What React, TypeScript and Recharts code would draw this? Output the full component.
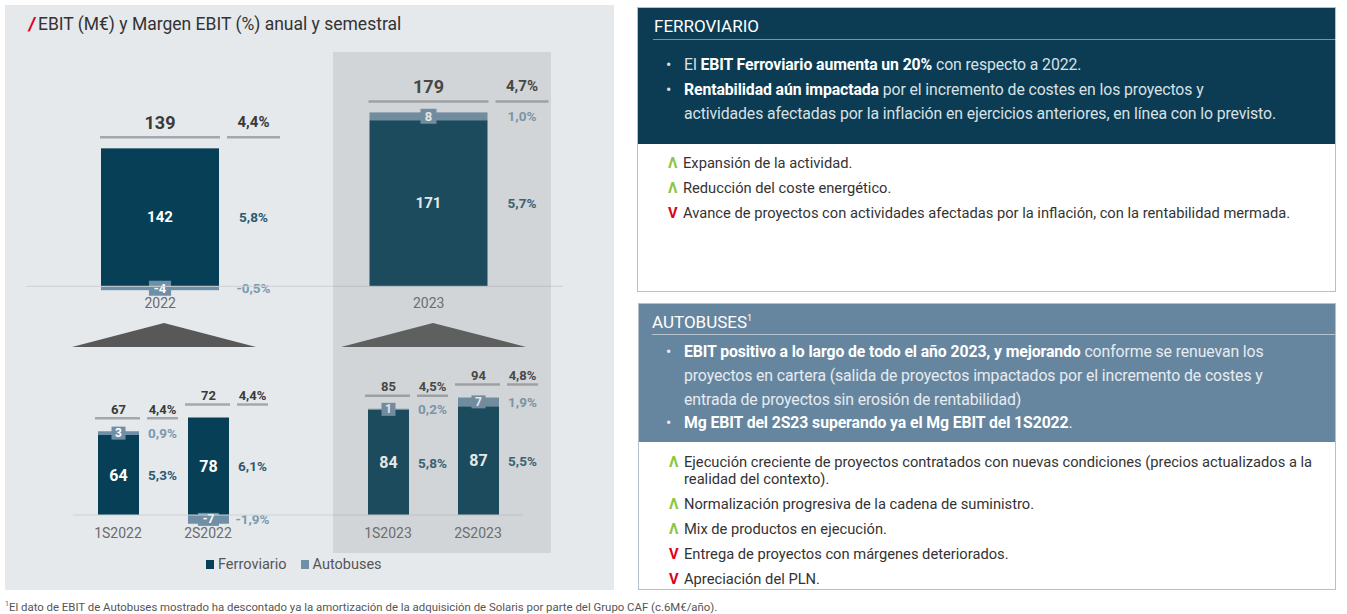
import { BarChart, Bar, XAxis, YAxis, ReferenceLine } from "recharts"

// annual data (M€ and margin %)
const annualCategories = ["2022", "2023"]
const annualFerroviario = [142, 171]
const annualAutobuses = [-4, 8]
const annualTotal = [139, 179]
const annualMargenFerroviario = ["5,8%", "5,7%"]
const annualMargenAutobuses = ["-0,5%", "1,0%"]
const annualMargenTotal = ["4,4%", "4,7%"]

// semester data, the empty category is the gap between the two years
const semesterCategories = ["1S2022", "2S2022", "", "1S2023", "2S2023"]
const semesterFerroviario = [64, 78, null, 84, 87]
const semesterAutobuses = [3, -7, null, 1, 7]
const semesterTotal = [67, 72, null, 85, 94]
const semesterMargenFerroviario = ["5,3%", "6,1%", null, "5,8%", "5,5%"]
const semesterMargenAutobuses = ["0,9%", "-1,9%", null, "0,2%", "1,9%"]
const semesterMargenTotal = ["4,4%", "4,4%", null, "4,5%", "4,8%"]

const seriesNames = ["Ferroviario", "Autobuses"]

const FERRO = "#063f56"
const BUS = "#6f8fa7"
const FONT = "Roboto, 'Noto Sans', sans-serif"

const buildRows = (cats: string[], fe: any[], bu: any[], tot: any[], mf: any[], mb: any[], mt: any[]) =>
  cats.map((name, i) => ({
    name,
    ferroviario: fe[i],
    autobuses: bu[i],
    total: tot[i],
    mFerro: mf[i],
    mBus: mb[i],
    mTotal: mt[i],
  }))

const annualRows = buildRows(
  annualCategories, annualFerroviario, annualAutobuses, annualTotal,
  annualMargenFerroviario, annualMargenAutobuses, annualMargenTotal
)
const semesterRows = buildRows(
  semesterCategories, semesterFerroviario, semesterAutobuses, semesterTotal,
  semesterMargenFerroviario, semesterMargenAutobuses, semesterMargenTotal
)

interface LabelStyle {
  valueFont: number
  boxFont: number
  boxH: number
  boxMin: number
  pctFont: number
  totalFont: number
  totalPctFont: number
  pctLineW: number
  totalGap: number
  labelLift: number
  linePad: number
}

const annualStyle: LabelStyle = {
  valueFont: 15, boxFont: 13, boxH: 15, boxMin: 16, pctFont: 13.5, totalFont: 18,
  totalPctFont: 15, pctLineW: 53, totalGap: 11, labelLift: 15, linePad: 1,
}
const semesterStyle: LabelStyle = {
  valueFont: 16, boxFont: 12, boxH: 13, boxMin: 14, pctFont: 13.5, totalFont: 13,
  totalPctFont: 13, pctLineW: 31, totalGap: 13, labelLift: 9, linePad: 3,
}

const makeFerroShape = (s: LabelStyle) => (props: any) => {
  const { x, y, width, height, payload } = props
  if (payload == null || payload.ferroviario == null) return null
  const top = Math.min(y, y + height)
  const h = Math.abs(height)
  const cx = x + width / 2
  const unit = h / Math.abs(payload.ferroviario)
  const stackTop = top - Math.max(0, payload.autobuses) * unit
  const lineY = stackTop - s.totalGap
  const pctX = x + width + 8
  const pctC = pctX + s.pctLineW / 2
  return (
    <g>
      <rect x={x} y={top} width={width} height={h} fill={FERRO} />
      <text x={cx} y={top + h / 2} fill="#fff" fontWeight={700} fontSize={s.valueFont}
        textAnchor="middle" dominantBaseline="central" fontFamily={FONT}>{payload.ferroviario}</text>
      <text x={pctC} y={top + h / 2} fill="#2c5a72" fontWeight={700} fontSize={s.pctFont}
        textAnchor="middle" dominantBaseline="central" fontFamily={FONT}>{payload.mFerro}</text>
      <line x1={x - s.linePad} x2={x + width + 1} y1={lineY} y2={lineY} stroke="#a4a8ac" strokeWidth={2.5} />
      <line x1={pctX} x2={pctX + s.pctLineW} y1={lineY} y2={lineY} stroke="#a4a8ac" strokeWidth={2.5} />
      <text x={cx} y={lineY - s.labelLift} fill="#3a3a3a" fontWeight={700} fontSize={s.totalFont}
        textAnchor="middle" dominantBaseline="central" fontFamily={FONT}>{payload.total}</text>
      <text x={pctC} y={lineY - s.labelLift} fill="#3a3a3a" fontWeight={700} fontSize={s.totalPctFont}
        textAnchor="middle" dominantBaseline="central" fontFamily={FONT}>{payload.mTotal}</text>
    </g>
  )
}

const makeBusShape = (s: LabelStyle) => (props: any) => {
  const { x, y, width, height, payload } = props
  if (payload == null || payload.autobuses == null) return null
  const top = Math.min(y, y + height)
  const h = Math.abs(height)
  const cx = x + width / 2
  const cy = top + h / 2
  const label = String(payload.autobuses)
  const boxW = Math.max(s.boxMin, label.length * s.boxFont * 0.62 + 6)
  const pctC = x + width + 8 + s.pctLineW / 2
  return (
    <g>
      <rect x={x} y={top} width={width} height={h} fill={BUS} />
      <rect x={cx - boxW / 2} y={cy - s.boxH / 2} width={boxW} height={s.boxH} fill={BUS} />
      <text x={cx} y={cy} fill="#fff" fontWeight={700} fontSize={s.boxFont}
        textAnchor="middle" dominantBaseline="central" fontFamily={FONT}>{label}</text>
      <text x={pctC} y={cy} fill="#7b99af" fontWeight={700} fontSize={s.pctFont}
        textAnchor="middle" dominantBaseline="central" fontFamily={FONT}>{payload.mBus}</text>
    </g>
  )
}

function StackChart({ rows, style, width, height, margin, domain, barSize, axisH, tickMargin }: any) {
  return (
    <BarChart width={width} height={height} data={rows} margin={margin} stackOffset="sign">
      <XAxis dataKey="name" axisLine={false} tickLine={false} tickSize={0} tickMargin={tickMargin}
        height={axisH} interval={0} tick={{ fontSize: 14, fill: "#6b6b6b", fontFamily: FONT }} />
      <YAxis hide domain={domain} />
      <ReferenceLine y={0} stroke="#cdd2d6" strokeWidth={1} />
      <Bar dataKey="ferroviario" name={seriesNames[0]} stackId="a" fill={FERRO} barSize={barSize}
        shape={makeFerroShape(style)} isAnimationActive={false} />
      <Bar dataKey="autobuses" name={seriesNames[1]} stackId="a" fill={BUS} barSize={barSize}
        shape={makeBusShape(style)} isAnimationActive={false} />
    </BarChart>
  )
}

const para = { margin: 0 }
const headText = { fontSize: 15.8, letterSpacing: "-0.1px" }
const itemText = { fontSize: 14.7 }

export default function App() {
  return (
    <div style={{ position: "absolute", left: 0, top: 0, width: 1347, height: 614, background: "#fff", fontFamily: FONT, overflow: "hidden" }}>
      {/* left panel */}
      <div style={{ position: "absolute", left: 5, top: 5, width: 609, height: 585, background: "#e5e9ec" }} />
      <div style={{ position: "absolute", left: 29, top: 12, fontSize: 17.5, color: "#333", whiteSpace: "nowrap", lineHeight: "24px" }}>
        <span style={{ color: "#e3001b", fontWeight: 900, fontStyle: "italic", marginRight: 3 }}>/</span>
        EBIT (M€) y Margen EBIT (%) anual y semestral
      </div>

      <div style={{ position: "absolute", left: 0, top: 52 }}>
        <StackChart rows={annualRows} style={annualStyle} width={600} height={274}
          margin={{ top: 40, right: 37, left: 26, bottom: 0 }} domain={[-10, 200]}
          barSize={118} axisH={30} tickMargin={2} />
      </div>

      <svg style={{ position: "absolute", left: 0, top: 0 }} width={620} height={360}>
        <polygon points="72,347 164,323 256,347" fill="#585858" />
        <polygon points="341,347 433,323 526,347" fill="#585858" />
      </svg>

      <div style={{ position: "absolute", left: 0, top: 340 }}>
        <StackChart rows={semesterRows} style={semesterStyle} width={600} height={205}
          margin={{ top: 50, right: 77, left: 73, bottom: 0 }} domain={[-8, 100]}
          barSize={41} axisH={20} tickMargin={3} />
      </div>

      {/* 2023 highlight */}
      <div style={{ position: "absolute", left: 333, top: 52, width: 218, height: 501, background: "rgba(122,125,128,0.19)", pointerEvents: "none" }} />

      <div style={{ position: "absolute", left: 206, top: 556, fontSize: 14.5, color: "#555", whiteSpace: "nowrap", lineHeight: "18px" }}>
        <span style={{ display: "inline-block", width: 8, height: 9, background: FERRO, marginRight: 4 }} />
        {seriesNames[0]}
        <span style={{ display: "inline-block", width: 8, height: 9, background: BUS, marginLeft: 14, marginRight: 4 }} />
        {seriesNames[1]}
      </div>

      {/* Ferroviario box */}
      <div style={{ position: "absolute", left: 637, top: 7, width: 697, height: 283, border: "1px solid #b5c1ca", background: "#fff" }}>
        <div style={{ position: "absolute", left: 0, top: 0, width: 697, height: 136, background: "#0b3c53" }} />
        <div style={{ position: "absolute", left: 15, top: 6, width: 682, height: 25, borderBottom: "1px solid rgba(255,255,255,0.45)", color: "#fff", fontSize: 17, lineHeight: "24px", paddingLeft: 1 }}>FERROVIARIO</div>
        <div style={{ position: "absolute", left: 28, top: 45, ...headText, lineHeight: "24.5px", color: "#d9e1e6", whiteSpace: "nowrap" }}>
          <div style={{ display: "flex" }}><span style={{ width: 18 }}>•</span><p style={para}>El <b style={{ color: "#fff" }}>EBIT Ferroviario aumenta un 20%</b> con respecto a 2022.</p></div>
          <div style={{ display: "flex" }}><span style={{ width: 18 }}>•</span><p style={para}><b style={{ color: "#fff" }}>Rentabilidad aún impactada</b> por el incremento de costes en los proyectos y<br />actividades afectadas por la inflación en ejercicios anteriores, en línea con lo previsto.</p></div>
        </div>
        <div style={{ position: "absolute", left: 30, top: 147, ...itemText, lineHeight: "17px", color: "#333", whiteSpace: "nowrap" }}>
          <div style={{ display: "flex", marginBottom: 8 }}><span style={{ width: 15, color: "#8cc63f", fontWeight: 700 }}>Λ</span><p style={para}>Expansión de la actividad.</p></div>
          <div style={{ display: "flex", marginBottom: 8 }}><span style={{ width: 15, color: "#8cc63f", fontWeight: 700 }}>Λ</span><p style={para}>Reducción del coste energético.</p></div>
          <div style={{ display: "flex", marginBottom: 8 }}><span style={{ width: 15, color: "#e2001a", fontWeight: 700 }}>V</span><p style={para}>Avance de proyectos con actividades afectadas por la inflación, con la rentabilidad mermada.</p></div>
        </div>
      </div>

      {/* Autobuses box */}
      <div style={{ position: "absolute", left: 638, top: 303, width: 696, height: 285, border: "1px solid #b5c1ca", background: "#fff" }}>
        <div style={{ position: "absolute", left: 0, top: 0, width: 696, height: 138, background: "#6686a0" }} />
        <div style={{ position: "absolute", left: 13, top: 2, width: 683, height: 28, borderBottom: "1px solid rgba(255,255,255,0.5)", color: "#fff", fontSize: 17, lineHeight: "24px" }}>AUTOBUSES<sup style={{ fontSize: 9 }}>1</sup></div>
        <div style={{ position: "absolute", left: 27, top: 36, ...headText, lineHeight: "24px", color: "#e6ecf0", whiteSpace: "nowrap" }}>
          <div style={{ display: "flex" }}><span style={{ width: 18 }}>•</span><p style={para}><b style={{ color: "#fff" }}>EBIT positivo a lo largo de todo el año 2023, y mejorando</b> conforme se renuevan los<br />proyectos en cartera (salida de proyectos impactados por el incremento de costes y<br />entrada de proyectos sin erosión de rentabilidad)</p></div>
          <div style={{ display: "flex", marginTop: -1 }}><span style={{ width: 18 }}>•</span><p style={para}><b style={{ color: "#fff" }}>Mg EBIT del 2S23 superando ya el Mg EBIT del 1S2022</b>.</p></div>
        </div>
        <div style={{ position: "absolute", left: 30, top: 150, ...itemText, lineHeight: "17px", color: "#333", whiteSpace: "nowrap" }}>
          <div style={{ display: "flex", marginBottom: 8 }}><span style={{ width: 15, color: "#8cc63f", fontWeight: 700 }}>Λ</span><p style={para}>Ejecución creciente de proyectos contratados con nuevas condiciones (precios actualizados a la<br />realidad del contexto).</p></div>
          <div style={{ display: "flex", marginBottom: 8 }}><span style={{ width: 15, color: "#8cc63f", fontWeight: 700 }}>Λ</span><p style={para}>Normalización progresiva de la cadena de suministro.</p></div>
          <div style={{ display: "flex", marginBottom: 8 }}><span style={{ width: 15, color: "#8cc63f", fontWeight: 700 }}>Λ</span><p style={para}>Mix de productos en ejecución.</p></div>
          <div style={{ display: "flex", marginBottom: 8 }}><span style={{ width: 15, color: "#e2001a", fontWeight: 700 }}>V</span><p style={para}>Entrega de proyectos con márgenes deteriorados.</p></div>
          <div style={{ display: "flex", marginBottom: 8 }}><span style={{ width: 15, color: "#e2001a", fontWeight: 700 }}>V</span><p style={para}>Apreciación del PLN.</p></div>
        </div>
      </div>

      <div style={{ position: "absolute", left: 5, top: 597, fontSize: 11.4, color: "#555", whiteSpace: "nowrap", lineHeight: "14px" }}>
        <sup style={{ fontSize: 7 }}>1</sup>El dato de EBIT de Autobuses mostrado ha descontado ya la amortización de la adquisición de Solaris por parte del Grupo CAF (c.6M€/año).
      </div>
    </div>
  )
}
